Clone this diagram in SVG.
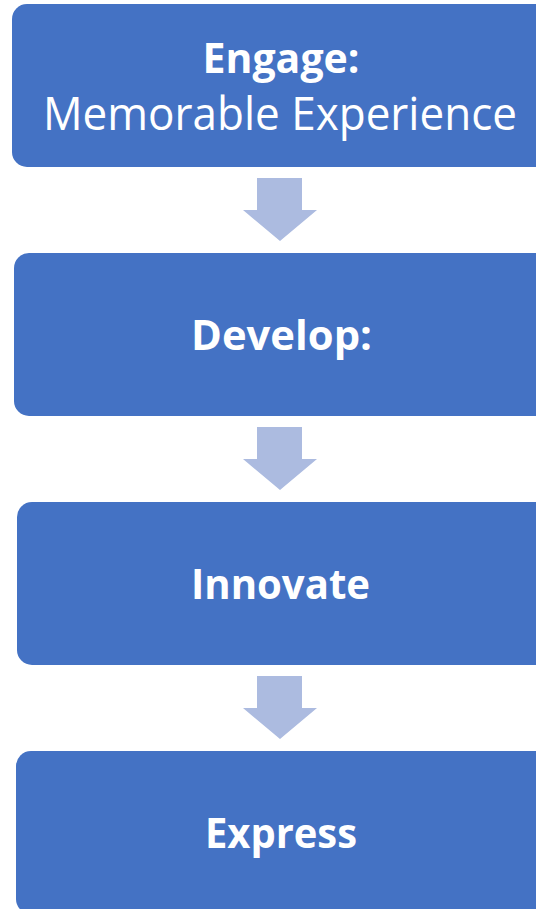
<svg xmlns="http://www.w3.org/2000/svg" width="536" height="909" viewBox="0 0 536 909">
<style>
.box{fill:#4472C4}
.arr{fill:#ACBBE0}
.t{fill:#fff;font-family:"Open Sans","Liberation Sans",sans-serif;text-anchor:middle}
.b{font-weight:bold;font-size:42px}
.r{font-size:45px}
</style>
<rect width="536" height="909" fill="#fff"/>
<g id="connectors">
<polygon class="arr" points="257,178 302,178 302,210 317,210 280,241 243,210 257,210"/>
<polygon class="arr" points="257,427 302,427 302,459 317,459 280,490 243,459 257,459"/>
<polygon class="arr" points="257,676 302,676 302,708 317,708 280,739 243,708 257,708"/>
</g>
<g id="engage">
<rect class="box" x="12" y="4" width="540" height="163" rx="15"/>
<text class="t b" x="281" y="73" textLength="157" lengthAdjust="spacingAndGlyphs">Engage:</text>
<text class="t r" x="280" y="130" textLength="474" lengthAdjust="spacingAndGlyphs">Memorable Experience</text>
</g>
<g id="develop">
<rect class="box" x="14" y="253" width="540" height="163" rx="15"/>
<text class="t b" x="281.5" y="350" textLength="181" lengthAdjust="spacingAndGlyphs">Develop:</text>
</g>
<g id="innovate">
<rect class="box" x="17" y="502" width="540" height="163" rx="15"/>
<text class="t b" x="280.5" y="599" textLength="179" lengthAdjust="spacingAndGlyphs">Innovate</text>
</g>
<g id="express">
<rect class="box" x="16" y="751" width="540" height="163" rx="15"/>
<text class="t b" x="281" y="848" textLength="152" lengthAdjust="spacingAndGlyphs">Express</text>
</g>
</svg>
